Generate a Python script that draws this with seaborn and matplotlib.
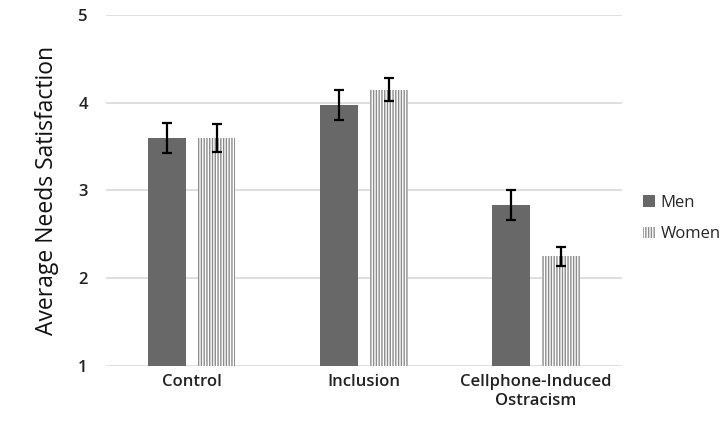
import pandas as pd
import matplotlib.pyplot as plt
import seaborn as sns

# values
conditions = ['Control', 'Inclusion', 'Cellphone-Induced\nOstracism']
men_means = [3.60, 3.97, 2.83]
women_means = [3.60, 4.15, 2.25]
men_err = [0.17, 0.17, 0.17]
women_err = [0.16, 0.13, 0.11]

data = pd.DataFrame({
    'condition': conditions * 2,
    'gender': ['Men'] * 3 + ['Women'] * 3,
    'score': men_means + women_means,
})

sns.set_style('white')
plt.rcParams['font.family'] = ['Open Sans', 'DejaVu Sans']
plt.rcParams['hatch.linewidth'] = 1.0

fig = plt.figure(figsize=(7.24, 4.26), dpi=100)
ax = fig.add_axes([0.146, 0.141, 0.713, 0.824])

sns.barplot(data=data, x='condition', y='score', hue='gender',
            palette=['#686868', '#ffffff'], width=0.576, gap=0.236,
            errorbar=None, ax=ax, zorder=3, linewidth=0)

# hatch the women bars, then add the error bars at each bar centre
for bar in ax.containers[1]:
    bar.set_facecolor('white')
    bar.set_edgecolor('#8c8c8c')
    bar.set_hatch('||||||')
    bar.set_linewidth(0)

for container, errs in zip(ax.containers, [men_err, women_err]):
    xs = [b.get_x() + b.get_width() / 2 for b in container]
    ys = [b.get_height() for b in container]
    ax.errorbar(xs, ys, yerr=errs, fmt='none', ecolor='black',
                elinewidth=1.6, capsize=3.5, capthick=1.6, zorder=4)

ax.set_ylim(1, 5)
ax.set_yticks([1, 2, 3, 4, 5])
ax.set_xlim(-0.5, 2.5)
ax.grid(axis='y', color='#d9d9d9', linewidth=1.2, zorder=0)
ax.set_axisbelow(True)
for s in ax.spines.values():
    s.set_visible(False)
ax.tick_params(axis='both', length=0, labelsize=12, colors='#222222')
ax.tick_params(axis='y', pad=13)
ax.tick_params(axis='x', pad=6)
for lab in ax.get_yticklabels() + ax.get_xticklabels():
    lab.set_fontweight('semibold')

ax.set_xlabel('')
ax.set_ylabel('Average Needs Satisfaction', fontsize=16.5, labelpad=14, color='#111111')

handles, labels = ax.get_legend_handles_labels()
handles[1].set_hatch('||||||')
handles[1].set_edgecolor('#8c8c8c')
ax.legend(handles, labels, frameon=False, loc='center left',
          bbox_to_anchor=(1.018, 0.42), fontsize=12, handlelength=0.7,
          handleheight=0.7, handletextpad=0.35, labelspacing=0.95,
          borderaxespad=0.3)

fig.savefig('out.png', dpi=100)
